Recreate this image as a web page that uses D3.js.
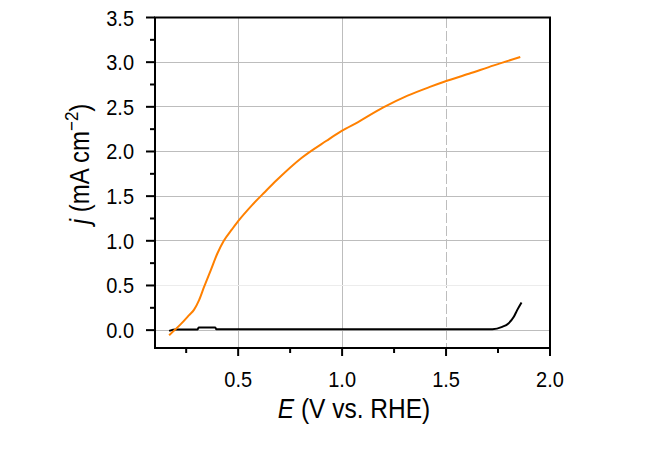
<!DOCTYPE html>
<html><head><meta charset="utf-8">
<script src="https://cdn.jsdelivr.net/npm/d3@7"></script>
<style>body{margin:0;background:#fff}svg{display:block}text{font-family:"Liberation Sans",Arial,sans-serif;fill:#000}</style>
</head><body><svg id="c" width="656" height="453"></svg>
<script>
const orangeE = [0.168,0.224,0.264,0.288,0.312,0.336,0.368,0.40,0.431,0.471,0.50,0.567,0.63,0.686,0.806,0.925,0.998,1.077,1.196,1.315,1.419,1.491,1.61,1.73,1.857];
const orangeJ = [-0.056,0.067,0.168,0.23,0.336,0.484,0.67,0.858,1.0,1.13,1.22,1.40,1.55,1.68,1.93,2.12,2.23,2.33,2.49,2.625,2.72,2.78,2.87,2.964,3.057];
const blackE = [0.168,0.20,0.305,0.31,0.39,0.395,1.0,1.723,1.77,1.80,1.826,1.842,1.863];
const blackJ = [-0.008,0.008,0.008,0.03,0.03,0.01,0.01,0.011,0.037,0.075,0.149,0.224,0.31];
const xTicks = [0.5,1.0,1.5,2.0];
const xMinor = [0.25,0.75,1.25,1.75];
const yTicks = [0.0,0.5,1.0,1.5,2.0,2.5,3.0,3.5];
const yMinor = [0.25,0.75,1.25,1.75,2.25,2.75,3.25];

const svg = d3.select("#c");
const L=155,R=550,T=17.5,B=348;
const x = d3.scaleLinear([0.1,2.0],[L,R]);
const y = d3.scaleLinear([-0.2,3.5],[B,T]);
const SY = 1.12;

// grid
const g = svg.append("g").attr("shape-rendering","crispEdges");
xTicks.filter(v=>v<2).forEach(v=>{
  g.append("line").attr("x1",x(v)).attr("x2",x(v)).attr("y1",T).attr("y2",B)
   .attr("stroke","#bdbdbd").attr("stroke-width",1)
   .attr("stroke-dasharray", v===1.5?"10,3":null);
});
yTicks.filter(v=>v<3.5).forEach(v=>{
  g.append("line").attr("x1",L).attr("x2",R).attr("y1",y(v)).attr("y2",y(v))
   .attr("stroke", v===0.5?"#ececec":"#bdbdbd").attr("stroke-width",1);
});

// data lines
const line = d3.line().x(d=>x(d[0])).y(d=>y(d[1])).curve(d3.curveMonotoneX);
svg.append("path").datum(blackE.map((e,i)=>[e,blackJ[i]])).attr("d",line)
  .attr("fill","none").attr("stroke","#000").attr("stroke-width",2);
svg.append("path").datum(orangeE.map((e,i)=>[e,orangeJ[i]])).attr("d",line)
  .attr("fill","none").attr("stroke","#ff8000").attr("stroke-width",2);

// frame
svg.append("rect").attr("x",L).attr("y",T).attr("width",R-L).attr("height",B-T)
  .attr("fill","none").attr("stroke","#000").attr("stroke-width",2);

// ticks
xTicks.forEach(v=>svg.append("line").attr("x1",x(v)).attr("x2",x(v)).attr("y1",B).attr("y2",B+8).attr("stroke","#000").attr("stroke-width",2));
xMinor.forEach(v=>svg.append("line").attr("x1",x(v)).attr("x2",x(v)).attr("y1",B).attr("y2",B+5).attr("stroke","#000").attr("stroke-width",2));
yTicks.forEach(v=>svg.append("line").attr("x1",L-9).attr("x2",L).attr("y1",y(v)).attr("y2",y(v)).attr("stroke","#000").attr("stroke-width",2));
yMinor.forEach(v=>svg.append("line").attr("x1",L-5).attr("x2",L).attr("y1",y(v)).attr("y2",y(v)).attr("stroke","#000").attr("stroke-width",2));

// tick labels
const fmt = d3.format(".1f");
xTicks.forEach(v=>{
  svg.append("g").attr("transform",`translate(${x(v)},387) scale(1,${SY})`)
   .append("text").attr("text-anchor","middle").attr("font-size",20).text(fmt(v));
});
yTicks.forEach(v=>{
  svg.append("g").attr("transform",`translate(134,${y(v)+8}) scale(1,${SY})`)
   .append("text").attr("text-anchor","end").attr("font-size",20).text(fmt(v));
});

// axis titles
const xt = svg.append("g").attr("transform",`translate(354,418) scale(1,${SY})`)
  .append("text").attr("text-anchor","middle").attr("font-size",24.5);
xt.append("tspan").attr("font-style","italic").text("E");
xt.append("tspan").text(" (V vs. RHE)");

const yt = svg.append("g").attr("transform",`translate(89,164) rotate(-90) scale(1,${SY})`)
  .append("text").attr("text-anchor","middle").attr("font-size",24);
yt.append("tspan").attr("font-style","italic").text("j");
yt.append("tspan").text(" (mA cm");
yt.append("tspan").attr("font-size",17).attr("dy",-10).text("−2");
yt.append("tspan").attr("dy",10).text(")");
</script></body></html>
